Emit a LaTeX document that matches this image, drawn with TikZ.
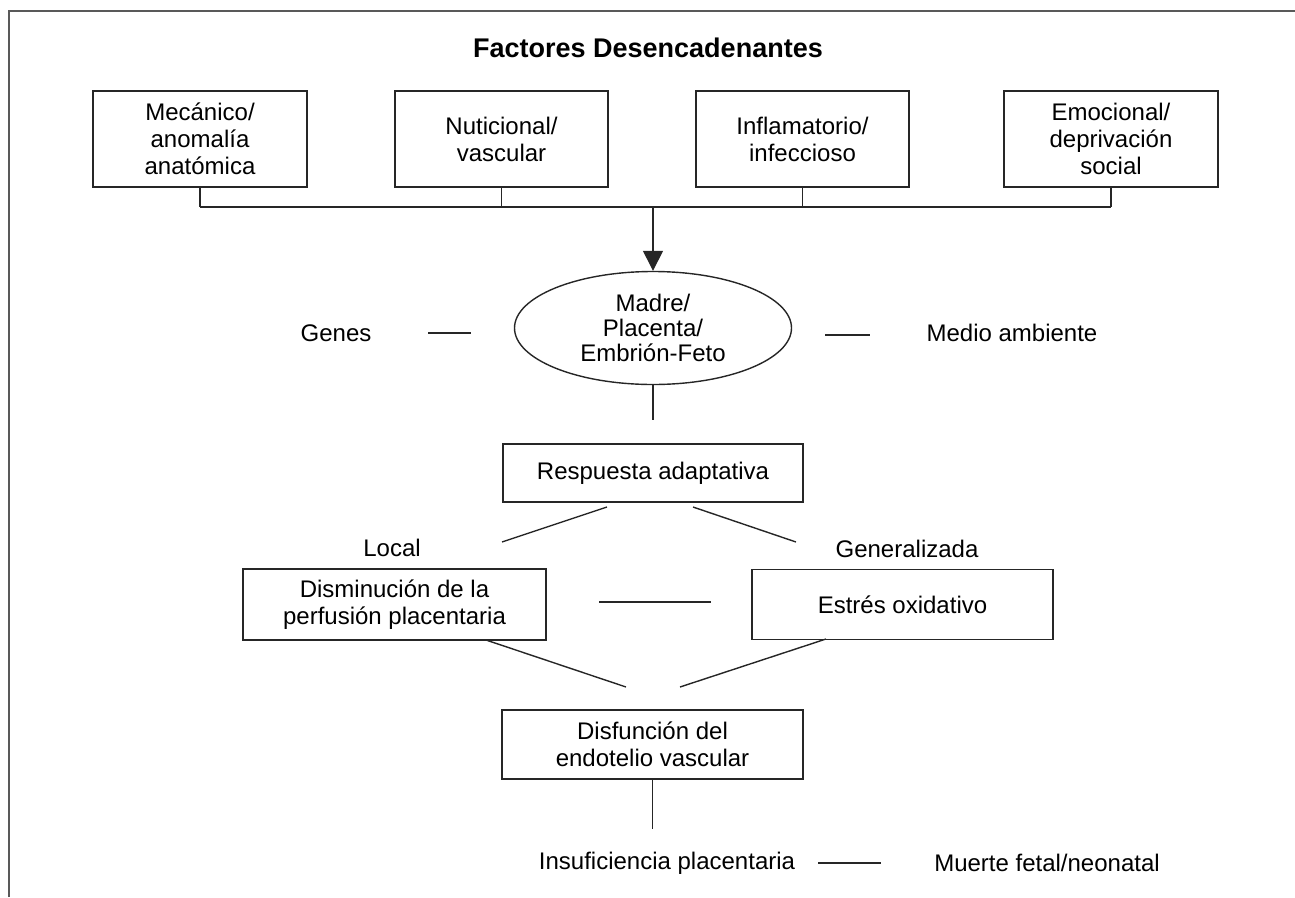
\documentclass[tikz,border=0pt]{standalone}
\usepackage{fontspec}
\setmainfont{Liberation Sans}
\usetikzlibrary{shapes.geometric,arrows.meta}
\begin{document}
\begin{tikzpicture}[x=1pt,y=-1pt,
  txt/.style={font=\fontsize{24}{27}\selectfont, align=center, inner sep=0pt},
  box/.style={txt, draw=black!85, line width=1.4pt, rectangle},
  conn/.style={draw=black!85, line width=1.4pt},
  frame/.style={draw=black!65, line width=2.5pt}]
\useasboundingbox (0,0) rectangle (1295,897);
\draw[frame] (9,897) -- (9,11) -- (1296,11);

\node[txt, font=\fontsize{27}{30}\selectfont\bfseries] (title) at (648,48) {Factores Desencadenantes};

\node[box, minimum width=214, minimum height=96] (m1) at (200,139) {Mecánico/\\anomalía\\anatómica};
\node[box, minimum width=213, minimum height=96] (m2) at (501.5,139) {Nuticional/\\vascular};
\node[box, minimum width=213, minimum height=96] (m3) at (802.5,139) {Inflamatorio/\\infeccioso};
\node[box, minimum width=214, minimum height=96] (m4) at (1111,139) {Emocional/\\deprivación\\social};

\coordinate (b1) at (200,207);
\coordinate (b2) at (501.5,207);
\coordinate (b3) at (802.5,207);
\coordinate (b4) at (1111,207);
\coordinate (bc) at (653,207);
\draw[conn] (m1.south) -- (b1);
\draw[conn] (m2.south) -- (b2);
\draw[conn] (m3.south) -- (b3);
\draw[conn] (m4.south) -- (b4);
\draw[conn] (b1) -- (b4);

\node[txt, draw=black!85, line width=1.4pt, ellipse, minimum width=277, minimum height=113] (ell) at (653,328) {Madre/\\[-2pt]Placenta/\\[-2pt]Embrión-Feto};
\draw[conn, -{Triangle[length=20pt,width=20pt]}] (bc) -- (ell.north);

\node[txt] (genes) at (336,333) {Genes};
\coordinate (g1) at (428,333);
\coordinate (g2) at (471,333);
\draw[conn] (g1) -- (g2);
\node[txt] (medio) at (1012,333) {Medio ambiente};
\coordinate (ma1) at (825,335);
\coordinate (ma2) at (870,335);
\draw[conn] (ma1) -- (ma2);

\coordinate (e2) at (653,420);
\draw[conn] (ell.south) -- (e2);

\node[box, minimum width=300, minimum height=58] (resp) at (653,473) {Respuesta adaptativa};

\coordinate (rl1) at (607,507);
\coordinate (rl2) at (502,542);
\coordinate (rr1) at (693,507);
\coordinate (rr2) at (796,542);
\draw[conn] (rl1) -- (rl2);
\draw[conn] (rr1) -- (rr2);

\node[txt] (local) at (392,548) {Local};
\node[txt] (gen) at (907,549) {Generalizada};

\node[box, minimum width=303, minimum height=71] (dism) at (394.5,604.5) {Disminución de la\\perfusión placentaria};
\node[box, minimum width=301, minimum height=70] (estr) at (902.5,604.5) {Estrés oxidativo};

\coordinate (mid1) at (599,602);
\coordinate (mid2) at (711,602);
\draw[conn] (mid1) -- (mid2);

\coordinate (dl1) at (486,640);
\coordinate (dl2) at (626,687);
\coordinate (dr1) at (826,639);
\coordinate (dr2) at (680,687);
\draw[conn] (dl1) -- (dl2);
\draw[conn] (dr1) -- (dr2);

\node[box, minimum width=301, minimum height=69] (disf) at (652.5,744.5) {Disfunción del\\endotelio vascular};

\coordinate (f2) at (652.5,829);
\draw[conn] (disf.south) -- (f2);

\node[txt] (insuf) at (667,863) {Insuficiencia placentaria};
\coordinate (i1) at (818,863);
\coordinate (i2) at (881,863);
\draw[conn] (i1) -- (i2);
\node[txt] (muerte) at (1047,863) {Muerte fetal/neonatal};
\end{tikzpicture}
\end{document}
